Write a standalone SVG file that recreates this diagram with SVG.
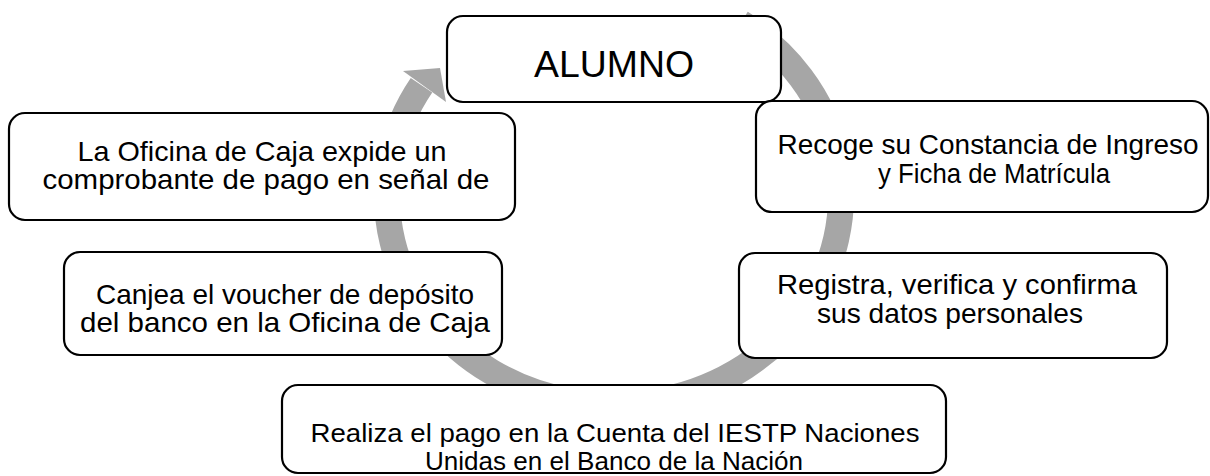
<svg xmlns="http://www.w3.org/2000/svg" width="1210" height="476" viewBox="0 0 1210 476">
  <style>
    .box { fill: #ffffff; stroke: #000000; stroke-width: 2.2; }
    .t { font-family: "Liberation Sans", Arial, sans-serif; font-size: 28px; fill: #000000; text-anchor: middle; }
    .s { font-family: "Liberation Sans", Arial, sans-serif; font-size: 25px; fill: #000000; text-anchor: middle; }
    .big { font-family: "Liberation Sans", Arial, sans-serif; font-size: 37px; fill: #000000; text-anchor: middle; }
    .arc { fill: none; stroke: #A6A6A6; stroke-width: 26; }
    .head { fill: #A6A6A6; stroke: none; }
  </style>
  <rect width="1210" height="476" fill="#ffffff"/>
  <g id="connectors">
    <path class="arc" d="M 740.9 22.7 A 227 209 0 1 1 421.5 85.2"/>
    <polygon class="head" points="403,71 440,68 446,102"/>
  </g>
  <g id="node-alumno">
    <rect class="box" x="447" y="16" width="334" height="86" rx="16"/>
    <text class="big" x="614" y="77" textLength="160" lengthAdjust="spacingAndGlyphs">ALUMNO</text>
  </g>
  <g id="node-recoge">
    <rect class="box" x="756" y="101" width="452" height="111" rx="16"/>
    <text class="t" x="988" y="154" textLength="421" lengthAdjust="spacingAndGlyphs">Recoge su Constancia de Ingreso</text>
    <text class="t" x="994" y="183" textLength="232" lengthAdjust="spacingAndGlyphs">y Ficha de Matrícula</text>
  </g>
  <g id="node-registra">
    <rect class="box" x="739" y="253" width="428" height="105" rx="16"/>
    <text class="t" x="957" y="294" textLength="360" lengthAdjust="spacingAndGlyphs">Registra, verifica y confirma</text>
    <text class="t" x="950" y="323" textLength="266" lengthAdjust="spacingAndGlyphs">sus datos personales</text>
  </g>
  <g id="node-realiza">
    <rect class="box" x="282" y="385" width="664" height="88" rx="16"/>
    <text class="s" x="615" y="442" textLength="609" lengthAdjust="spacingAndGlyphs">Realiza el pago en la Cuenta del IESTP Naciones</text>
    <text class="s" x="614" y="470" textLength="378" lengthAdjust="spacingAndGlyphs">Unidas en el Banco de la Nación</text>
  </g>
  <g id="node-canjea">
    <rect class="box" x="64" y="252" width="438" height="103" rx="16"/>
    <text class="t" x="285" y="304" textLength="378" lengthAdjust="spacingAndGlyphs">Canjea el voucher de depósito</text>
    <text class="t" x="285" y="332" textLength="410" lengthAdjust="spacingAndGlyphs">del banco en la Oficina de Caja</text>
  </g>
  <g id="node-oficina">
    <rect class="box" x="9" y="113" width="506" height="107" rx="16"/>
    <text class="t" x="262" y="161" textLength="369" lengthAdjust="spacingAndGlyphs">La Oficina de Caja expide un</text>
    <text class="t" x="266" y="189" textLength="447" lengthAdjust="spacingAndGlyphs">comprobante de pago en señal de</text>
  </g>
</svg>
